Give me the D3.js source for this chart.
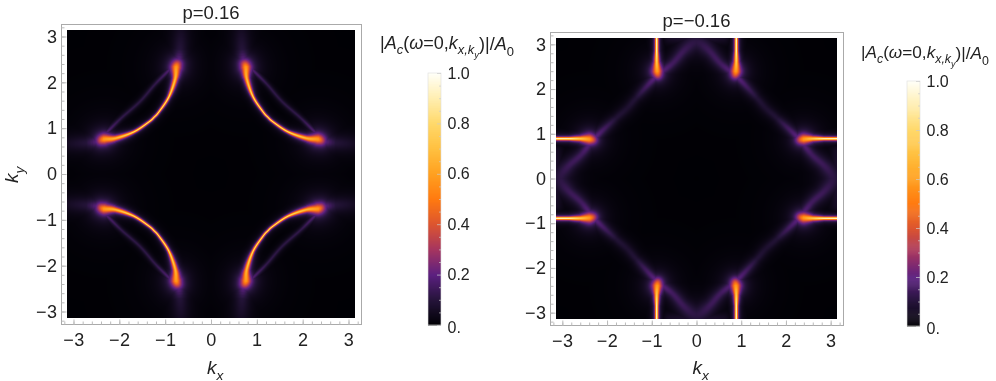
<!DOCTYPE html>
<html>
<head>
<meta charset="utf-8">
<script src="https://cdn.jsdelivr.net/npm/d3@7"></script>
<style>
	body { margin: 0; background: #fff; }
	#chart { position: relative; width: 996px; height: 381px; overflow: hidden; }
	#chart canvas { position: absolute; filter: blur(0.5px); }
	#chart svg { position: absolute; left: 0; top: 0; }
	text { font-family: "Liberation Sans", sans-serif; fill: #222; }
</style>
</head>
<body>
<div id="chart"></div>
<script>
// ridge lines, first quadrant only: kx, ky, peak height, half width in k
var leftArcKx = [0.72, 0.76, 0.78, 0.92, 1.14, 1.24, 1.35, 1.68, 2.08, 2.33, 2.42];
var leftArcKy = [2.42, 2.33, 2.08, 1.68, 1.35, 1.24, 1.14, 0.92, 0.78, 0.76, 0.72];
var leftArcValue = [0.25, 0.58, 0.66, 0.78, 0.8, 0.8, 0.8, 0.78, 0.66, 0.58, 0.25];
var leftArcWidth = [0.13, 0.1, 0.05, 0.026, 0.021, 0.021, 0.021, 0.026, 0.05, 0.1, 0.13];

var leftBackKx = [0.82, 0.88, 1.21, 1.55, 1.97, 2.30, 2.38];
var leftBackKy = [2.38, 2.30, 1.97, 1.58, 1.21, 0.88, 0.82];
var leftBackValue = [0.22, 0.18, 0.12, 0.11, 0.12, 0.18, 0.22];
var leftBackWidth = [0.06, 0.055, 0.045, 0.045, 0.045, 0.055, 0.06];

var leftTailKx = [0.72, 0.68, 0.66];
var leftTailKy = [2.42, 2.7, 3.14];
var leftTailValue = [0.25, 0.1, 0.05];
var leftTailWidth = [0.12, 0.15, 0.2];

var rightBarKx = [0.89, 0.89, 0.89, 0.88, 0.86];
var rightBarKy = [3.14, 2.85, 2.6, 2.4, 2.3];
var rightBarValue = [0.94, 0.9, 0.72, 0.58, 0.3];
var rightBarWidth = [0.028, 0.03, 0.05, 0.1, 0.11];

var rightEdgeKx = [0, 0.12, 0.31, 0.54, 0.91, 1.35, 1.55, 1.8, 2.27, 2.57, 2.83, 3.0, 3.05];
var rightEdgeKy = [3.05, 3.0, 2.83, 2.57, 2.27, 1.8, 1.57, 1.35, 0.91, 0.54, 0.31, 0.12, 0];
var rightEdgeValue = [0.11, 0.12, 0.14, 0.15, 0.2, 0.09, 0.08, 0.09, 0.2, 0.15, 0.14, 0.12, 0.11];
var rightEdgeWidth = [0.24, 0.2, 0.14, 0.12, 0.1, 0.1, 0.11, 0.1, 0.1, 0.12, 0.14, 0.2, 0.24];

var rightWashKx = [0, 0.6];
var rightWashKy = [3.14, 3.14];
var rightWashValue = [0.08, 0.06];
var rightWashWidth = [0.15, 0.15];

var colorStops = [0, 0.1, 0.2, 0.3, 0.4, 0.5, 0.6, 0.7, 0.8, 0.9, 1];
var colorValues = ["#000004", "#25143a", "#5c2080", "#a53560", "#dc5530", "#ff7a10", "#ffa020", "#ffc040", "#ffd86a", "#ffeeb0", "#fffff8"];

var axisTicks = [-3, -2, -1, 0, 1, 2, 3];
var minorTicks = d3.range(-32, 33, 2).map(function(d) { return d / 10; }).filter(function(d) { return Math.abs(d) <= 3.2; });
var barTicks = [0, 0.2, 0.4, 0.6, 0.8, 1];
var barMinorTicks = [0.05, 0.1, 0.15, 0.25, 0.3, 0.35, 0.45, 0.5, 0.55, 0.65, 0.7, 0.75, 0.85, 0.9, 0.95];

function ridge(kx, ky, value, width) {
	return kx.map(function(d, i) { return { kx: d, ky: ky[i], value: value[i], width: width[i] }; });
}

var leftRidges = [
	ridge(leftArcKx, leftArcKy, leftArcValue, leftArcWidth),
	ridge(leftBackKx, leftBackKy, leftBackValue, leftBackWidth),
	ridge(leftTailKx, leftTailKy, leftTailValue, leftTailWidth),
	ridge(leftTailKy, leftTailKx, leftTailValue, leftTailWidth)
];
var rightRidges = [
	ridge(rightBarKx, rightBarKy, rightBarValue, rightBarWidth),
	ridge(rightBarKy, rightBarKx, rightBarValue, rightBarWidth),
	ridge(rightEdgeKx, rightEdgeKy, rightEdgeValue, rightEdgeWidth),
	ridge(rightWashKx, rightWashKy, rightWashValue, rightWashWidth),
	ridge(rightWashKy, rightWashKx, rightWashValue, rightWashWidth)
];

var color = d3.scaleLinear().domain(colorStops).range(colorValues).clamp(true);

var chart = d3.select("#chart");
var svg = chart.append("svg").attr("width", 996).attr("height", 381);

// round off the ridge between the points
function smooth(r) {
	var out = [];
	function cr(a, b, c, d, t) {
		return 0.5 * (2 * b + (c - a) * t + (2 * a - 5 * b + 4 * c - d) * t * t + (3 * b - a - 3 * c + d) * t * t * t);
	}
	for (var i = 0; i < r.length - 1; i++) {
		var p0 = r[Math.max(i - 1, 0)], p1 = r[i], p2 = r[i + 1], p3 = r[Math.min(i + 2, r.length - 1)];
		for (var s = 0; s < 6; s++) {
			var t = s / 6;
			out.push({
				kx: cr(p0.kx, p1.kx, p2.kx, p3.kx, t),
				ky: cr(p0.ky, p1.ky, p2.ky, p3.ky, t),
				value: p1.value + t * (p2.value - p1.value),
				width: p1.width + t * (p2.width - p1.width)
			});
		}
	}
	out.push(r[r.length - 1]);
	return out;
}

// height of the field at one k point: the strongest ridge wins
function fieldAt(px, py, segments) {
	var best = 0;
	for (var i = 0; i < segments.length; i++) {
		var s = segments[i];
		var t = ((px - s.a.kx) * s.dx + (py - s.a.ky) * s.dy) / s.len;
		t = t < 0 ? 0 : t > 1 ? 1 : t;
		var ex = px - s.a.kx - t * s.dx;
		var ey = py - s.a.ky - t * s.dy;
		var w = s.a.width + t * (s.b.width - s.a.width);
		var v = (s.a.value + t * (s.b.value - s.a.value)) / (1 + (ex * ex + ey * ey) / (w * w));
		if (v > best) best = v;
	}
	return best;
}

function drawHeatmap(x, y, ridges) {
	var x0 = x.range()[0], x1 = x.range()[1], y0 = y.range()[1], y1 = y.range()[0];
	var w = x1 - x0, h = y1 - y0;
	var canvas = chart.insert("canvas", "svg")
		.attr("width", w)
		.attr("height", h)
		.style("left", x0 + "px")
		.style("top", y0 + "px");
	var ctx = canvas.node().getContext("2d");
	var image = ctx.createImageData(w, h);

	var segments = [];
	ridges.forEach(function(r) {
		d3.pairs(smooth(r)).forEach(function(p) {
			var dx = p[1].kx - p[0].kx, dy = p[1].ky - p[0].ky;
			segments.push({ a: p[0], b: p[1], dx: dx, dy: dy, len: dx * dx + dy * dy });
		});
	});

	for (var j = 0; j < h; j++) {
		var ky = Math.abs(y.invert(y0 + j + 0.5));
		for (var i = 0; i < w; i++) {
			var kx = Math.abs(x.invert(x0 + i + 0.5));
			var c = d3.rgb(color(fieldAt(kx, ky, segments)));
			var k = (j * w + i) * 4;
			image.data[k] = c.r;
			image.data[k + 1] = c.g;
			image.data[k + 2] = c.b;
			image.data[k + 3] = 255;
		}
	}
	ctx.putImageData(image, 0, 0);
}

// text with sub and subsub script runs: [string, level, italic]
function richText(parent, runs, size) {
	var text = parent.append("text").style("font-size", size + "px");
	var level = 0;
	runs.forEach(function(r) {
		var dy = (r[1] - level) * size * (Math.max(r[1], level) > 1 ? 0.22 : 0.3);
		text.append("tspan")
			.attr("dy", dy)
			.style("font-size", size * Math.pow(0.72, r[1]) + "px")
			.style("font-style", r[2] ? "italic" : "normal")
			.text(r[0]);
		level = r[1];
	});
	return text;
}

function drawPanel(p) {
	var x = d3.scaleLinear().domain([-Math.PI, Math.PI]).range(p.xRange);
	var y = d3.scaleLinear().domain([-Math.PI, Math.PI]).range(p.yRange);
	drawHeatmap(x, y, p.ridges);

	var g = svg.append("g");
	var left = p.xRange[0] - 6, right = p.xRange[1] + 6;
	var top = p.yRange[1] - 6, bottom = p.yRange[0] + 6;

	g.append("rect")
		.attr("x", left + 0.5).attr("y", top + 0.5)
		.attr("width", right - left).attr("height", bottom - top)
		.attr("fill", "none").attr("stroke", "#aaa");

	var tickAxes = [
		g.append("g").attr("transform", "translate(0," + (bottom + 0.5) + ")")
			.call(d3.axisBottom(x).tickValues(minorTicks).tickSize(-3).tickFormat("")),
		g.append("g").attr("transform", "translate(" + (left + 0.5) + ",0)")
			.call(d3.axisLeft(y).tickValues(minorTicks).tickSize(-3).tickFormat("")),
		g.append("g").attr("transform", "translate(0," + (bottom + 0.5) + ")")
			.call(d3.axisBottom(x).tickValues(axisTicks).tickSize(-5).tickPadding(8.5).tickFormat(d3.format("d"))),
		g.append("g").attr("transform", "translate(" + (left + 0.5) + ",0)")
			.call(d3.axisLeft(y).tickValues(axisTicks).tickSize(-5).tickPadding(4).tickFormat(d3.format("d")))
	];
	tickAxes.forEach(function(a) {
		a.select(".domain").remove();
		a.selectAll("line").attr("stroke", "#bbb");
		a.selectAll("text").style("font-size", "18px").style("font-family", "'Liberation Sans', sans-serif")
			.style("letter-spacing", "0.5px").attr("fill", "#222");
	});

	g.append("text")
		.attr("x", x(0)).attr("y", p.titleY)
		.attr("text-anchor", "middle")
		.style("font-size", "18.5px")
		.text(p.title);

	richText(g, [["k", 0, true], ["x", 1, true]], 19)
		.attr("x", x(0) - 4).attr("y", 374);

	if (p.yLabel) {
		richText(g, [["k", 0, true], ["y", 1, true]], 19)
			.attr("transform", "translate(18," + (y(0) + 9) + ") rotate(-90)");
	}

	// colour bar
	var barY = d3.scaleLinear().domain([0, 1]).range(p.barRange);
	var barG = svg.append("g").attr("transform", "translate(" + p.barX + ",0)");
	barG.selectAll("rect.cell")
		.data(d3.range(0, 252))
		.join("rect")
		.attr("class", "cell")
		.attr("x", 0)
		.attr("y", function(d) { return barY((d + 1) / 252); })
		.attr("width", 13)
		.attr("height", function() { return barY(0) - barY(1 / 252) + 0.5; })
		.attr("fill", function(d) { return color((d + 0.5) / 252); });
	barG.append("rect")
		.attr("x", 0).attr("y", barY(1))
		.attr("width", 13).attr("height", barY(0) - barY(1))
		.attr("fill", "none").attr("stroke", "#ddd").attr("stroke-width", 0.6);

	var minor = barG.append("g").attr("transform", "translate(13,0)")
		.call(d3.axisRight(barY).tickValues(barMinorTicks).tickSize(-2).tickFormat(""));
	var major = barG.append("g").attr("transform", "translate(13,0)")
		.call(d3.axisRight(barY).tickValues(barTicks).tickSize(-4).tickPadding(6.5)
			.tickFormat(function(d) { return d === 0 ? "0." : d3.format(".1f")(d); }));
	[minor, major].forEach(function(a) {
		a.select(".domain").remove();
		a.selectAll("line").attr("stroke", "#ccc").attr("stroke-opacity", 0.7);
		a.selectAll("text").style("font-size", "16px").style("font-family", "'Liberation Sans', sans-serif").attr("fill", "#222");
	});
	major.selectAll(".tick").filter(function(d) { return d === 0; }).select("text").attr("dy", "0.45em");

	richText(svg, [["|", 0, false], ["A", 0, true], ["c", 1, true], ["(", 0, false], ["ω", 0, true], ["=0,", 0, false], ["k", 0, true], ["x,", 1, true], ["k", 1, true], ["y", 2, true], [")", 0, false], ["|/", 0, false], ["A", 0, true], ["0", 1, false]], p.barTitleSize)
		.attr("transform", "translate(" + p.barTitleX + "," + p.barTitleY + ")");
}

drawPanel({
	title: "p=0.16", titleY: 19, yLabel: true,
	xRange: [67, 355], yRange: [318, 30], ridges: leftRidges,
	barX: 428, barRange: [325, 73], barTitleX: 380, barTitleY: 49, barTitleSize: 18
});
drawPanel({
	title: "p=\u22120.16", titleY: 27, yLabel: false,
	xRange: [556, 837], yRange: [319, 38], ridges: rightRidges,
	barX: 907, barRange: [326, 81], barTitleX: 861, barTitleY: 58, barTitleSize: 17.2
});
</script>
</body>
</html>
